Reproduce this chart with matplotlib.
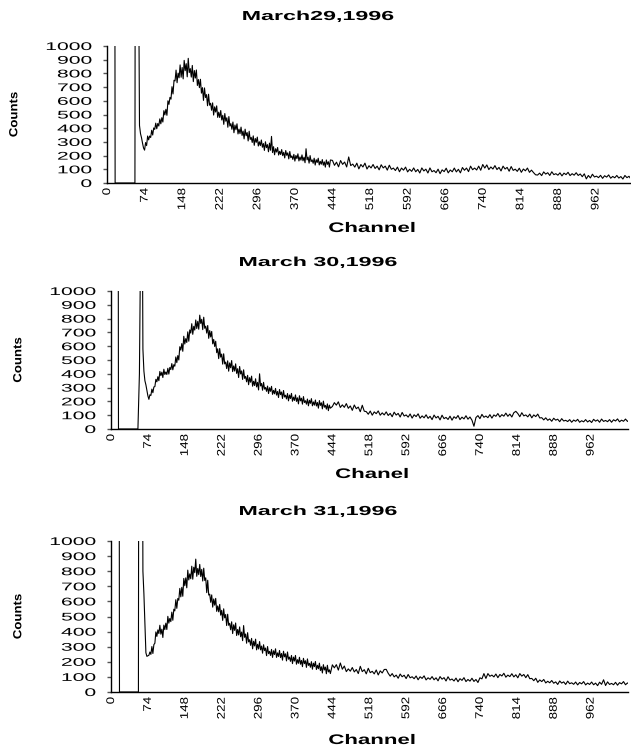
import numpy as np
import matplotlib
matplotlib.use("Agg")
import matplotlib.pyplot as plt
from matplotlib.patheffects import AbstractPathEffect
from matplotlib.transforms import Affine2D

plt.rcParams["font.family"] = ["Liberation Sans", "DejaVu Sans"]

# ---------------------------------------------------------------- data
TITLES = ["March29,1996", "March 30,1996", "March 31,1996"]
XLABELS = ["Channel", "Chanel", "Channel"]
YLABEL = "Counts"
XTICKS = list(range(0, 963, 74))
YTICKS = list(range(0, 1001, 100))

# low-channel structure (threshold spike, empty gap, edge)
head_ch_29 = [0, 15, 16, 55, 56, 60]
head_ct_29 = [3000, 3000, 0, 0, 3000, 3000]
head_ch_30 = [0, 14, 15, 54, 57, 59, 61]
head_ct_30 = [3000, 3000, 0, 0, 400, 1200, 3000]
head_ch_31 = [0, 16, 17, 55, 56, 62]
head_ct_31 = [3000, 3000, 0, 0, 3000, 3000]

# main peak region: channel 64 onward, every 2 channels
MAIN_START, MAIN_STEP = 64, 2
main_29 = [
    420, 360, 330, 290, 255, 240, 295, 273, 343, 315,
    343, 332, 385, 350, 402, 391, 437, 396, 434, 416,
    468, 432, 477, 445, 528, 497, 538, 494, 600, 574,
    625, 612, 703, 650, 750, 745, 824, 732, 802, 768,
    862, 772, 843, 760, 895, 820, 871, 775, 910, 806,
    835, 773, 858, 740, 821, 766, 825, 712, 755, 696,
    757, 656, 696, 603, 694, 624, 645, 564, 648, 568,
    582, 531, 585, 496, 556, 518, 563, 479, 517, 478,
    529, 460, 494, 428, 507, 451, 476, 407, 485, 416,
    433, 392, 445, 367, 423, 389, 432, 358, 393, 360,
    408, 347, 379, 322, 393, 345, 368, 307, 378, 318,
    333, 296, 344, 275, 325, 297, 335, 270, 301, 273,
    314, 261, 288, 238, 301, 258, 280, 228, 291, 239,
    340, 222, 265, 206, 250, 226, 259, 204, 231, 208,
    244, 200, 224, 183, 237, 202, 220, 176, 230, 185,
    198, 172, 209, 160, 201, 178, 213, 161, 190, 167,
    205, 162, 188, 148, 250, 169, 189, 145, 200, 156,
    169, 144, 181, 131, 170, 150, 181, 132, 158, 137,
    171, 130, 154, 116, 168, 136, 155, 116, 168,
]
main_30 = [
    580, 420, 350, 320, 280, 240, 215, 248, 243, 289,
    263, 305, 307, 360, 342, 379, 350, 417, 387, 412,
    373, 433, 395, 413, 395, 440, 398, 446, 431, 474,
    429, 466, 455, 522, 481, 532, 500, 596, 572, 619,
    563, 672, 616, 655, 627, 704, 636, 718, 695, 763,
    686, 744, 717, 790, 728, 780, 723, 825, 765, 795,
    720, 810, 730, 745, 695, 750, 657, 713, 667, 707,
    617, 649, 598, 636, 553, 581, 510, 583, 521, 543,
    470, 545, 472, 485, 438, 494, 419, 479, 444, 496,
    416, 457, 420, 472, 403, 437, 373, 453, 399, 421,
    359, 429, 367, 381, 342, 389, 321, 372, 339, 383,
    310, 346, 315, 364, 305, 338, 283, 400, 312, 330,
    281, 338, 289, 301, 273, 311, 257, 299, 273, 309,
    251, 280, 255, 294, 246, 272, 228, 286, 249, 268,
    221, 279, 232, 245, 218, 257, 204, 246, 221, 258,
    201, 231, 207, 247, 200, 226, 182, 241, 204, 223,
    180, 235, 192, 205, 180, 217, 168, 208, 186, 220,
    168, 196, 173, 210, 167, 192, 151, 206, 171, 190,
    146, 202, 158, 171, 144, 182, 133, 173, 151,
]
main_31 = [
    800, 650, 450, 260, 236, 240, 243, 265, 249, 301,
    255, 314, 323, 398, 368, 411, 387, 442, 383, 416,
    361, 443, 413, 456, 414, 501, 456, 487, 466, 529,
    475, 548, 537, 611, 554, 619, 608, 686, 630, 693,
    634, 752, 704, 756, 690, 807, 742, 782, 750, 833,
    747, 826, 790, 880, 766, 818, 777, 845, 765, 812,
    735, 820, 739, 756, 658, 740, 642, 648, 594, 643,
    562, 616, 575, 620, 534, 570, 531, 580, 509, 541,
    474, 551, 491, 513, 440, 515, 442, 455, 412, 465,
    387, 445, 408, 457, 374, 414, 378, 431, 366, 397,
    340, 440, 362, 384, 323, 393, 332, 346, 309, 355,
    286, 336, 305, 350, 279, 316, 285, 334, 279, 304,
    257, 313, 274, 291, 241, 301, 254, 269, 242, 282,
    229, 273, 248, 286, 229, 259, 235, 275, 228, 255,
    211, 270, 233, 253, 206, 265, 217, 231, 203, 242,
    188, 231, 205, 242, 184, 214, 190, 230, 184, 209,
    168, 223, 188, 207, 163, 219, 176, 190, 164, 201,
    151, 191, 168, 202, 149, 177, 154, 191, 142, 167,
    126, 181, 146, 165, 121, 177, 133, 147, 122,
]

# high-channel tail: channel 444 onward, every 4 channels
TAIL_START, TAIL_STEP = 444, 4
tail_29 = [
    165, 129, 152, 118, 164, 136, 153, 117, 190, 127,
    138, 116, 145, 103, 135, 117, 145, 102, 126, 110,
    135, 106, 123, 96, 133, 110, 123, 94, 130, 100,
    109, 91, 116, 82, 109, 94, 116, 81, 100, 85,
    110, 82, 99, 73, 110, 88, 101, 73, 110, 82,
    91, 75, 101, 68, 96, 83, 108, 74, 95, 82,
    109, 81, 100, 74, 113, 93, 109, 83, 123, 97,
    109, 95, 123, 93, 135, 109, 132, 98, 117, 102,
    127, 98, 114, 88, 123, 102, 114, 86, 120, 92,
    101, 85, 108, 78, 102, 89, 109, 78, 94, 76,
    60, 58, 72, 54, 81, 65, 75, 55, 82, 61,
    68, 57, 74, 52, 72, 61, 78, 54, 68, 57,
    75, 55, 66, 46, 67, 30, 55, 37, 64, 44,
    50, 39, 56, 34, 53, 43, 59, 35, 48, 38,
    55, 36, 47, 29, 55, 39, 49, 28, 55, 35,
]
tail_30 = [
    163, 191, 173, 197, 156, 175, 157, 184, 150, 167,
    135, 174, 147, 159, 125, 172, 129, 126, 107, 130,
    100, 124, 111, 131, 100, 117, 102, 124, 98, 113,
    89, 122, 101, 113, 87, 120, 94, 102, 86, 109,
    79, 103, 90, 110, 78, 95, 81, 103, 77, 92,
    68, 101, 80, 92, 66, 100, 75, 84, 69, 93,
    64, 89, 77, 98, 68, 86, 73, 96, 71, 87,
    64, 20, 83, 97, 75, 106, 85, 94, 82, 104,
    79, 102, 92, 112, 87, 104, 93, 115, 92, 108,
    87, 118, 128, 112, 89, 118, 95, 102, 88, 108,
    81, 102, 90, 108, 80, 82, 66, 81, 63, 73,
    56, 78, 64, 71, 53, 75, 58, 63, 54, 68,
    49, 65, 56, 70, 49, 60, 52, 68, 51, 62,
    47, 70, 57, 66, 49, 72, 55, 62, 53, 68,
    49, 67, 58, 73, 52, 64, 56, 72, 55, 66,
]
tail_31 = [
    180, 160, 181, 145, 192, 151, 172, 135, 153, 138,
    162, 133, 149, 122, 170, 135, 148, 120, 157, 128,
    137, 120, 146, 113, 140, 126, 149, 150, 124, 105,
    122, 100, 112, 91, 119, 101, 111, 89, 116, 94,
    101, 88, 106, 81, 101, 90, 107, 80, 94, 84,
    102, 81, 94, 74, 102, 85, 95, 73, 101, 79,
    86, 73, 92, 68, 88, 77, 95, 69, 83, 72,
    91, 70, 83, 63, 94, 87, 122, 90, 122, 104,
    112, 100, 119, 95, 116, 106, 124, 98, 112, 102,
    121, 100, 114, 94, 122, 105, 116, 95, 115, 88,
    90, 75, 91, 64, 80, 69, 83, 60, 71, 61,
    76, 58, 67, 50, 73, 59, 67, 50, 72, 55,
    61, 51, 66, 47, 63, 54, 69, 47, 59, 50,
    66, 48, 59, 42, 65, 51, 81, 43, 67, 50,
    57, 48, 64, 45, 62, 54, 69, 48, 60, 52,
]

HEAD_CH = [head_ch_29, head_ch_30, head_ch_31]
HEAD_CT = [head_ct_29, head_ct_30, head_ct_31]
MAIN = [main_29, main_30, main_31]
TAIL = [tail_29, tail_30, tail_31]
XMAX = [1030, 1037, 1037]


# ------------------------------------------------------- text stretching
class Stretch(AbstractPathEffect):
    """Scale a text path about one of its edges (display coordinates)."""

    def __init__(self, sx=1.0, sy=1.0, hx="center", vy="center"):
        super().__init__()
        self.sx, self.sy, self.hx, self.vy = sx, sy, hx, vy

    def draw_path(self, renderer, gc, tpath, affine, rgbFace=None):
        ext = tpath.get_extents(affine)
        cx = {"left": ext.x0, "center": 0.5 * (ext.x0 + ext.x1), "right": ext.x1}[self.hx]
        cy = {"bottom": ext.y0, "center": 0.5 * (ext.y0 + ext.y1), "top": ext.y1}[self.vy]
        aff = affine + Affine2D().translate(-cx, -cy).scale(self.sx, self.sy).translate(cx, cy)
        renderer.draw_path(gc, tpath, Affine2D(aff.get_matrix()), rgbFace)


# ---------------------------------------------------------------- layout
W, H = 631, 749
fig = plt.figure(figsize=(W / 100, H / 100), dpi=100)
fig.patch.set_facecolor("white")

BOXES = [(107, 46, 630, 183), (111, 291, 628, 429), (111, 541, 628, 692)]
TITLE_Y = [20, 266, 515]
XLABEL_Y = [232, 478, 744]
YLABEL_X = [14, 18, 18]

for i in range(3):
    left, top, right, bottom = BOXES[i]
    ax = fig.add_axes([left / W, 1 - bottom / H, (right - left) / W, (bottom - top) / H])

    ch = np.concatenate([
        HEAD_CH[i],
        MAIN_START + MAIN_STEP * np.arange(len(MAIN[i])),
        TAIL_START + TAIL_STEP * np.arange(len(TAIL[i])),
    ])
    ct = np.concatenate([HEAD_CT[i], MAIN[i], TAIL[i]])
    ax.plot(ch, ct, color="black", lw=0.8)

    ax.set_xlim(0, XMAX[i])
    ax.set_ylim(0, 1000)
    ax.set_xticks(XTICKS)
    ax.set_xticklabels([str(t) for t in XTICKS], rotation=90, fontsize=8)
    ax.set_yticks(YTICKS)
    ax.set_yticklabels([str(t) for t in YTICKS], fontsize=8)
    ax.tick_params(axis="x", length=0, pad=3.6)
    ax.tick_params(axis="y", length=3, width=1, color="#555555", pad=8)
    for lbl in ax.get_xticklabels():
        lbl.set_path_effects([Stretch(sy=1.2, hx="center", vy="top")])
    for lbl in ax.get_yticklabels():
        lbl.set_path_effects([Stretch(sx=1.9, hx="right", vy="center")])

    for side in ("top", "right"):
        ax.spines[side].set_visible(False)
    for side in ("left", "bottom"):
        ax.spines[side].set_color("black")
        ax.spines[side].set_linewidth(1.0)

    fig.text(318 / W, 1 - TITLE_Y[i] / H, TITLES[i], ha="center", va="baseline",
             fontsize=9.4, fontweight="bold",
             path_effects=[Stretch(sx=1.78, hx="center")])
    fig.text(372 / W, 1 - XLABEL_Y[i] / H, XLABELS[i], ha="center", va="baseline",
             fontsize=10, fontweight="bold",
             path_effects=[Stretch(sx=1.6, hx="center")])
    fig.text(YLABEL_X[i] / W, 1 - 0.5 * (top + bottom) / H, YLABEL, rotation=90,
             ha="center", va="center", fontsize=10, fontweight="bold",
             path_effects=[Stretch(sx=0.85, sy=0.95)])

fig.savefig("out.png", dpi=100)
